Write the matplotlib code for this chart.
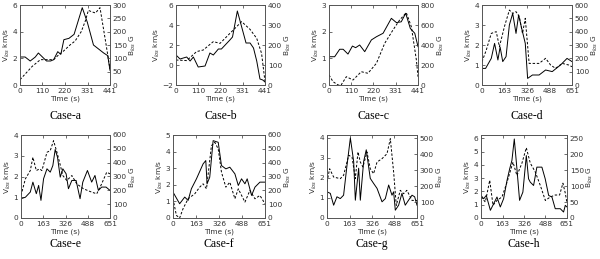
import numpy as np
import matplotlib.pyplot as plt

################################################################################
## Data - time (s), V_los (km/s), B_los (G)
################################################################################

case_names = ["Case-a", "Case-b", "Case-c", "Case-d", "Case-e", "Case-f", "Case-g", "Case-h"]

t_a_v = [0, 25, 50, 75, 90, 110, 130, 150, 165, 185, 200, 215, 240, 265, 285, 305, 330, 360, 385, 410, 430, 441]
v_a = [2.1, 2.1, 1.8, 2.1, 2.4, 2.1, 1.8, 1.8, 1.9, 2.5, 2.3, 3.4, 3.5, 3.8, 4.8, 5.8, 4.7, 3.0, 2.7, 2.4, 2.2, 1.1]
t_a_b = [0, 30, 60, 100, 130, 165, 185, 210, 245, 270, 300, 320, 335, 350, 370, 392, 420, 441]
b_a = [20, 45, 70, 95, 95, 95, 110, 125, 150, 165, 200, 240, 280, 275, 270, 290, 160, 60]

t_b_v = [0, 20, 53, 70, 86, 110, 144, 168, 185, 210, 225, 267, 280, 304, 347, 367, 384, 400, 416, 430, 441]
v_b = [1.0, 0.6, 0.8, 0.4, 0.8, -0.2, -0.1, 1.2, 1.0, 1.6, 1.6, 2.5, 2.8, 5.4, 2.2, 2.2, 1.7, 0.4, -1.4, -1.5, -1.7]
t_b_b = [0, 53, 102, 135, 185, 218, 267, 292, 325, 367, 400, 424, 441]
b_b = [125, 122, 167, 175, 217, 208, 258, 283, 317, 278, 233, 158, 17]

t_c_v = [0, 28, 53, 70, 94, 116, 132, 152, 177, 210, 235, 268, 309, 334, 358, 380, 403, 425, 441]
v_c = [1.06, 1.06, 1.34, 1.34, 1.16, 1.46, 1.40, 1.50, 1.25, 1.69, 1.81, 1.94, 2.50, 2.34, 2.37, 2.69, 2.12, 1.94, 1.44]
t_c_b = [0, 20, 45, 60, 86, 119, 160, 193, 235, 276, 317, 350, 383, 408, 433, 441]
b_c = [100, 33, 0, 0, 83, 50, 133, 117, 217, 417, 550, 650, 723, 583, 250, 83]

t_d_v = [0, 26, 67, 91, 115, 131, 150, 174, 198, 222, 246, 265, 284, 313, 330, 365, 413, 460, 508, 568, 615, 651]
v_d = [0.83, 0.83, 1.33, 2.08, 1.25, 1.90, 1.17, 1.42, 3.0, 3.58, 2.58, 3.5, 2.92, 2.08, 0.33, 0.5, 0.5, 0.75, 0.67, 1.0, 1.33, 1.17]
t_d_b = [0, 31, 67, 103, 126, 162, 198, 222, 246, 270, 293, 313, 341, 413, 460, 496, 532, 580, 627, 651]
b_d = [175, 262, 387, 400, 287, 437, 562, 537, 550, 512, 387, 500, 162, 162, 200, 150, 125, 162, 150, 137]

t_e_v = [0, 32, 68, 87, 112, 129, 146, 165, 190, 214, 233, 250, 267, 287, 306, 330, 347, 372, 403, 432, 452, 486, 517, 541, 566, 590, 622, 651]
v_e = [0.93, 1.0, 1.25, 1.73, 1.17, 1.57, 0.85, 1.89, 2.37, 2.21, 2.53, 3.3, 2.93, 1.97, 2.37, 2.13, 1.41, 1.81, 1.81, 0.93, 1.73, 2.29, 1.73, 2.05, 1.33, 1.49, 1.49, 1.33]
t_e_b = [0, 32, 68, 87, 112, 136, 153, 190, 214, 238, 263, 282, 306, 335, 372, 408, 457, 517, 554, 590, 627, 651]
b_e = [163, 283, 343, 439, 343, 355, 343, 475, 487, 559, 475, 403, 307, 271, 307, 247, 211, 187, 175, 247, 331, 319]

t_f_v = [0, 47, 83, 107, 130, 166, 213, 232, 241, 260, 284, 320, 343, 374, 402, 438, 462, 485, 509, 525, 556, 580, 615, 651]
v_f = [1.56, 0.86, 1.26, 1.06, 1.76, 2.36, 3.26, 3.46, 2.06, 2.46, 4.66, 4.56, 3.16, 2.96, 3.06, 2.66, 1.96, 2.36, 2.06, 2.36, 1.36, 1.86, 2.16, 2.16]
t_f_b = [0, 24, 47, 71, 107, 154, 189, 213, 237, 272, 296, 320, 343, 374, 402, 438, 462, 509, 544, 580, 615, 651]
b_f = [139, 19, 0, 67, 139, 175, 223, 247, 211, 523, 547, 499, 331, 223, 259, 139, 211, 115, 199, 139, 163, 103]

t_g_v = [0, 24, 48, 72, 96, 120, 145, 169, 193, 205, 229, 241, 265, 284, 313, 337, 362, 398, 422, 446, 470, 482, 494, 518, 542, 566, 590, 615, 634, 651]
v_g = [1.31, 1.23, 0.64, 1.06, 0.97, 1.14, 2.65, 4.0, 2.82, 0.89, 2.49, 0.89, 2.82, 3.41, 1.98, 1.73, 1.48, 0.81, 0.97, 1.65, 1.14, 1.31, 0.39, 0.64, 1.23, 0.64, 0.89, 1.14, 1.06, 0.64]
t_g_b = [0, 19, 48, 96, 120, 157, 181, 205, 224, 241, 260, 289, 313, 337, 362, 398, 434, 458, 482, 501, 530, 554, 578, 615, 651]
b_g = [225, 308, 256, 246, 267, 392, 381, 246, 413, 350, 319, 413, 308, 277, 350, 371, 402, 496, 287, 79, 173, 152, 173, 110, 110]

t_h_v = [0, 20, 40, 71, 96, 121, 146, 171, 197, 217, 234, 252, 272, 292, 317, 343, 360, 373, 398, 423, 461, 486, 512, 537, 562, 600, 625, 638, 651]
v_h = [1.7, 1.45, 1.7, 0.58, 1.08, 1.58, 0.83, 1.45, 2.83, 3.7, 4.33, 5.95, 3.7, 1.33, 1.95, 4.7, 2.95, 2.7, 2.45, 3.83, 3.83, 2.95, 1.7, 1.58, 0.7, 0.7, 0.45, 0.95, 0.83]
t_h_b = [0, 33, 66, 91, 121, 159, 197, 242, 272, 310, 343, 373, 411, 449, 487, 525, 562, 595, 620, 638, 651]
b_h = [66, 50, 118, 40, 55, 66, 112, 175, 133, 172, 220, 172, 144, 102, 55, 66, 72, 72, 109, 78, 47]

series = [
    (t_a_v, v_a, t_a_b, b_a),
    (t_b_v, v_b, t_b_b, b_b),
    (t_c_v, v_c, t_c_b, b_c),
    (t_d_v, v_d, t_d_b, b_d),
    (t_e_v, v_e, t_e_b, b_e),
    (t_f_v, v_f, t_f_b, b_f),
    (t_g_v, v_g, t_g_b, b_g),
    (t_h_v, v_h, t_h_b, b_h),
]

short_ticks = [0, 110, 220, 331, 441]
long_ticks = [0, 163, 326, 488, 651]
x_ticks = [short_ticks] * 3 + [long_ticks] * 5

v_ticks = [[0, 2, 4, 6], [-2, 0, 2, 4, 6], [0, 1, 2, 3], [0, 1, 2, 3, 4],
           [0, 1, 2, 3, 4], [0, 1, 2, 3, 4, 5], [0, 1, 2, 3, 4], [0, 1, 2, 3, 4, 5, 6]]
b_ticks = [[0, 50, 100, 150, 200, 250, 300], [0, 100, 200, 300, 400], [0, 200, 400, 600, 800],
           [0, 100, 200, 300, 400, 500, 600], [0, 100, 200, 300, 400, 500, 600],
           [0, 100, 200, 300, 400, 500, 600], [0, 100, 200, 300, 400, 500], [0, 50, 100, 150, 200, 250]]
v_lims = [(0, 6), (-2, 6), (0, 3), (0, 4), (0, 4), (0, 5), (0, 4.15), (0, 6.25)]
b_lims = [(0, 300), (0, 400), (0, 800), (0, 600), (0, 600), (0, 600), (0, 519), (0, 260)]

################################################################################
## Layout in pixels (left, right, top, bottom) for a 600x259 canvas
################################################################################

W, H = 600, 259
boxes = [(20, 110, 5, 85), (176, 265, 5, 85), (329, 418, 5, 85), (482, 572, 5, 85),
         (21, 110, 135, 218), (173, 265, 135, 218), (327, 417, 135, 218), (481, 567, 135, 218)]

fig = plt.figure(figsize=(W / 100, H / 100), dpi=100)
tick_fs = 5.3
lw = 0.7
txt_col = "#333333"

for i, (l, r, t, b) in enumerate(boxes):
    tv, v, tb, bb = series[i]
    ax = fig.add_axes([l / W, 1 - b / H, (r - l) / W, (b - t) / H])
    ax2 = ax.twinx()

    ax.plot(tv, v, color="black", linewidth=lw)
    ax2.plot(tb, bb, color="black", linewidth=lw, linestyle=(0, (2.5, 1.8)))

    ax.set_xlim(0, x_ticks[i][-1])
    ax.set_xticks(x_ticks[i])
    ax.set_ylim(*v_lims[i])
    ax.set_yticks(v_ticks[i])
    ax2.set_ylim(*b_lims[i])
    ax2.set_yticks(b_ticks[i])

    for a in (ax, ax2):
        a.tick_params(direction="in", length=2.5, width=0.5, labelsize=tick_fs, pad=2, colors=txt_col)
        for s in a.spines.values():
            s.set_linewidth(0.6)
            s.set_color("#555555")
    ax.tick_params(top=True)

    ax.set_xlabel("Time (s)", fontsize=tick_fs, labelpad=1, color=txt_col)
    ax.set_ylabel("V$_{los}$ km/s", fontsize=tick_fs, labelpad=0.5, color=txt_col)
    ax2.set_ylabel("B$_{los}$ G", fontsize=tick_fs, labelpad=0.5, color=txt_col)

    cap_y = 116 if i < 4 else 244
    fig.text((l + r) / 2 / W, 1 - cap_y / H, case_names[i], ha="center", va="center",
             fontsize=8.5, family="Liberation Serif")

fig.savefig("out.png", dpi=100)
